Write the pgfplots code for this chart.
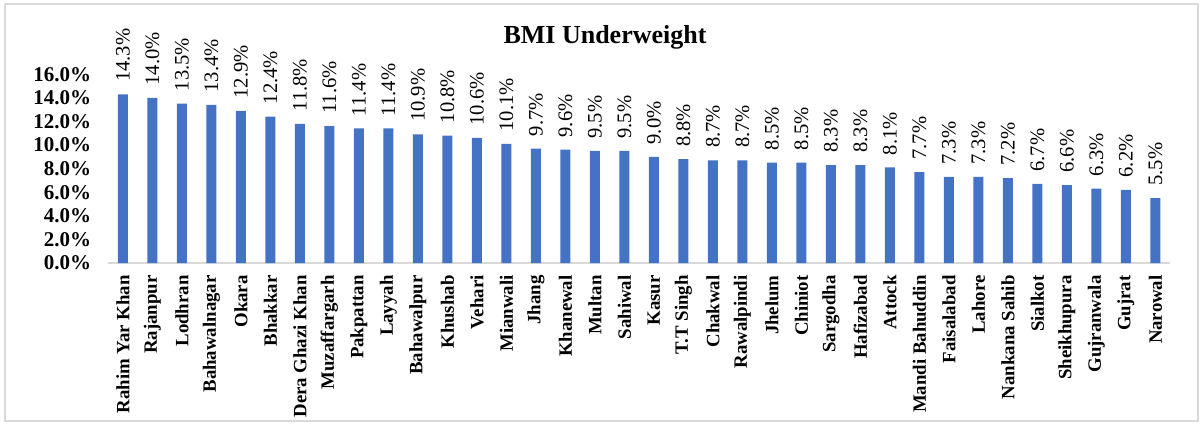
\documentclass[border=0pt]{standalone}
\usepackage{pgfplots}
\pgfplotsset{compat=1.18}
\usepackage{pgfplotstable}
\usepackage{fontspec}
\setmainfont{Liberation Serif}
\definecolor{barblue}{HTML}{4472C4}
\definecolor{framegray}{HTML}{D9D9D9}

\pgfplotstableread[col sep=comma]{
idx,district,val
0,Rahim Yar Khan,14.3
1,Rajanpur,14.0
2,Lodhran,13.5
3,Bahawalnagar,13.4
4,Okara,12.9
5,Bhakkar,12.4
6,Dera Ghazi Khan,11.8
7,Muzaffargarh,11.6
8,Pakpattan,11.4
9,Layyah,11.4
10,Bahawalpur,10.9
11,Khushab,10.8
12,Vehari,10.6
13,Mianwali,10.1
14,Jhang,9.7
15,Khanewal,9.6
16,Multan,9.5
17,Sahiwal,9.5
18,Kasur,9.0
19,T.T Singh,8.8
20,Chakwal,8.7
21,Rawalpindi,8.7
22,Jhelum,8.5
23,Chiniot,8.5
24,Sargodha,8.3
25,Hafizabad,8.3
26,Attock,8.1
27,Mandi Bahuddin,7.7
28,Faisalabad,7.3
29,Lahore,7.3
30,Nankana Sahib,7.2
31,Sialkot,6.7
32,Sheikhupura,6.6
33,Gujranwala,6.3
34,Gujrat,6.2
35,Narowal,5.5
}\underweight

\begin{document}
\begin{tikzpicture}
% page frame
\path (0,0) rectangle (601pt,212.5pt);
\draw[framegray, line width=0.8pt] (2.5pt,2pt) rectangle (599pt,210.5pt);
\node[font=\fontsize{13}{15}\selectfont\bfseries] at (302.5pt,194pt) {BMI Underweight};

\begin{axis}[
    at={(54.1pt,81pt)}, anchor=south west,
    scale only axis,
    width=531pt, height=106.2pt,
    ybar, bar width=5pt,
    xmin=-0.5, xmax=35.5,
    ymin=0, ymax=18,
    axis lines*=left,
    x axis line style={draw=framegray, line width=0.8pt},
    y axis line style={draw=none},
    major tick length=0pt,
    xtick=data,
    xticklabels from table={\underweight}{district},
    xticklabel style={rotate=90, anchor=east, inner xsep=6pt, inner ysep=0pt,
        font=\fontsize{9.4}{11}\selectfont\bfseries},
    ytick={0,2,...,16},
    yticklabel={\pgfmathprintnumber[fixed,fixed zerofill,precision=1]{\tick}\%},
    yticklabel style={font=\fontsize{10.5}{12}\selectfont\bfseries, xshift=-5pt},
    /pgf/number format/assume math mode=true,
    nodes near coords={\pgfmathprintnumber[fixed,fixed zerofill,precision=1]{\pgfplotspointmeta}\%},
    every node near coord/.append style={rotate=90, anchor=west, inner xsep=6pt,
        inner ysep=0pt, font=\fontsize{10.3}{12}\selectfont, black},
]
\addplot[fill=barblue, draw=none] table[x=idx, y=val] {\underweight};
\end{axis}
\end{tikzpicture}
\end{document}
